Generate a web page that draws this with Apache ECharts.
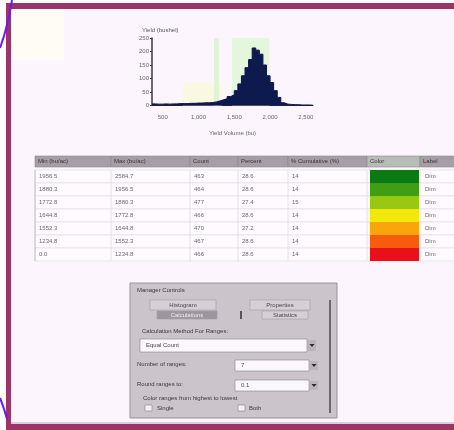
<!DOCTYPE html>
<html>
<head>
<meta charset="utf-8">
<script src="https://cdn.jsdelivr.net/npm/echarts@6/dist/echarts.min.js"></script>
<style>
  html, body { margin: 0; padding: 0; background: #fff; }
  #main { width: 454px; height: 430px; }
</style>
</head>
<body>
<div id="main"></div>
<script>
// histogram bins (left edge, bu) and counts
var binEdges = [350, 400, 450, 500, 550, 600, 650, 700, 750, 800, 850, 900, 950, 1000, 1050,
  1100, 1150, 1200, 1250, 1300, 1350, 1400, 1450, 1500, 1550, 1600, 1650, 1700, 1750, 1800,
  1850, 1900, 1950, 2000, 2050, 2100, 2150, 2200, 2250, 2300, 2350, 2400, 2450, 2500, 2550, 2600];
var binCounts = [6, 5, 5, 6, 5, 6, 6, 7, 7, 7, 8, 8, 9, 9, 10,
  10, 11, 13, 17, 21, 25, 33, 40, 55, 80, 110, 140, 170, 213, 205,
  190, 150, 110, 85, 55, 30, 10, 5, 4, 3, 3, 2, 2, 2, 1, 1];
var xTicks = [500, 1000, 1500, 2000, 2500];
var yTicks = [0, 50, 100, 150, 200, 250];

// range table
var tableHeaders = ['Min (bu/ac)', 'Max (bu/ac)', 'Count', 'Percent', '% Cumulative (%)', 'Color', 'Label'];
var rangeMin = ['1956.5', '1880.3', '1772.8', '1644.8', '1552.3', '1234.8', '0.0'];
var rangeMax = ['2584.7', '1956.5', '1880.3', '1772.8', '1644.8', '1552.3', '1234.8'];
var rangeCount = ['463', '464', '477', '466', '470', '467', '466'];
var rangePercent = ['28.6', '28.6', '27.4', '28.6', '27.2', '28.6', '28.6'];
var rangeCum = ['14', '14', '15', '14', '14', '14', '14'];
var rangeColors = ['#0b7a12', '#3f9e14', '#98c812', '#f2e80c', '#f8a60c', '#f85a0e', '#e8101a'];
var rangeLabel = ['Dim', 'Dim', 'Dim', 'Dim', 'Dim', 'Dim', 'Dim'];

var chart = echarts.init(document.getElementById('main'));
var font = 'Liberation Sans';

// column edges of the table
var colX = [35, 111, 190, 238, 288, 367, 420, 456];
var headTop = 156, headH = 11, rowTop = 170, rowH = 13;

var g = [];
// page background inside the frame
g.push({ type: 'rect', z: -10, shape: { x: 6, y: 3, width: 448, height: 427 }, style: { fill: '#fdf5fd' } });
g.push({ type: 'rect', z: -9, shape: { x: 12, y: 10, width: 52, height: 50 }, style: { fill: '#fffcf4' } });

// table header
for (var c = 0; c < tableHeaders.length; c++) {
  g.push({ type: 'rect', shape: { x: colX[c], y: headTop, width: colX[c + 1] - colX[c], height: headH },
    style: { fill: c === 5 ? '#b8bcb6' : '#a69ea6', stroke: '#8e868e', lineWidth: 0.6 } });
  g.push({ type: 'text', x: colX[c] + 3, y: headTop + headH / 2,
    style: { text: tableHeaders[c], fill: '#3a343a', fontSize: 6, fontFamily: font, verticalAlign: 'middle' } });
}
// table rows
var cols = [rangeMin, rangeMax, rangeCount, rangePercent, rangeCum];
for (var r = 0; r < rangeMin.length; r++) {
  var y = rowTop + r * rowH;
  g.push({ type: 'rect', z: -5, shape: { x: colX[0], y: y, width: colX[7] - colX[0], height: rowH },
    style: { fill: '#fefafe', stroke: '#e2dae2', lineWidth: 0.6 } });
  for (var k = 0; k < cols.length; k++) {
    g.push({ type: 'text', x: colX[k] + 4, y: y + rowH / 2,
      style: { text: cols[k][r], fill: '#6e666e', fontSize: 6, fontFamily: font, verticalAlign: 'middle' } });
  }
  g.push({ type: 'rect', shape: { x: colX[5] + 3, y: y, width: colX[6] - colX[5] - 4, height: rowH },
    style: { fill: rangeColors[r] } });
  g.push({ type: 'text', x: colX[6] + 5, y: y + rowH / 2,
    style: { text: rangeLabel[r], fill: '#6e666e', fontSize: 6, fontFamily: font, verticalAlign: 'middle' } });
}
// vertical grid lines of the table
for (var c2 = 0; c2 < colX.length - 1; c2++) {
  g.push({ type: 'line', z: -4, shape: { x1: colX[c2], y1: rowTop, x2: colX[c2], y2: rowTop + 7 * rowH },
    style: { stroke: c2 === 0 ? '#b8b0b8' : '#e2dae2', lineWidth: 0.8 } });
}

// dialog panel
var px = 130, py = 283, pw = 207, ph = 135;
g.push({ type: 'rect', shape: { x: px, y: py, width: pw, height: ph }, style: { fill: '#cbc4cb', stroke: '#9a929a', lineWidth: 1 } });
g.push({ type: 'text', x: 137, y: 290, style: { text: 'Manager Controls', fill: '#3c363c', fontSize: 6, fontFamily: font, verticalAlign: 'middle' } });
function button(x, y, w, h, label, dark) {
  g.push({ type: 'rect', shape: { x: x, y: y, width: w, height: h },
    style: { fill: dark ? '#9e969e' : '#d6d0d6', stroke: '#a49ca4', lineWidth: 0.6 } });
  g.push({ type: 'text', x: x + w / 2, y: y + h / 2,
    style: { text: label, fill: dark ? '#eee8ee' : '#4a444a', fontSize: 6, fontFamily: font, align: 'center', verticalAlign: 'middle' } });
}
button(150, 300, 66, 10, 'Histogram', false);
button(157, 311, 60, 8, 'Calculations', true);
button(250, 300, 60, 10, 'Properties', false);
button(262, 311, 46, 8, 'Statistics', false);
g.push({ type: 'rect', shape: { x: 240, y: 311, width: 2, height: 8 }, style: { fill: '#5a545a' } });
g.push({ type: 'text', x: 142, y: 331, style: { text: 'Calculation Method For Ranges:', fill: '#3c363c', fontSize: 6, fontFamily: font, verticalAlign: 'middle' } });

function dropdown(x, y, w, h, label) {
  g.push({ type: 'rect', shape: { x: x, y: y, width: w, height: h }, style: { fill: '#fbf8fb', stroke: '#8a828a', lineWidth: 0.6 } });
  g.push({ type: 'text', x: x + 6, y: y + h / 2, style: { text: label, fill: '#4a444a', fontSize: 6, fontFamily: font, verticalAlign: 'middle' } });
  g.push({ type: 'rect', shape: { x: x + w + 1, y: y + 1, width: 8, height: h - 2 }, style: { fill: '#bcb4bc' } });
  g.push({ type: 'polygon', shape: { points: [[x + w + 2.5, y + h / 2 - 1.5], [x + w + 7.5, y + h / 2 - 1.5], [x + w + 5, y + h / 2 + 1.5]] }, style: { fill: '#2c262c' } });
}
dropdown(140, 339, 167, 13, 'Equal Count');
g.push({ type: 'text', x: 137, y: 364, style: { text: 'Number of ranges:', fill: '#3c363c', fontSize: 6, fontFamily: font, verticalAlign: 'middle' } });
dropdown(235, 360, 74, 11, '7');
g.push({ type: 'text', x: 137, y: 384, style: { text: 'Round ranges to:', fill: '#3c363c', fontSize: 6, fontFamily: font, verticalAlign: 'middle' } });
dropdown(235, 380, 74, 11, '0.1');
g.push({ type: 'text', x: 143, y: 398, style: { text: 'Color ranges from highest to lowest', fill: '#3c363c', fontSize: 6, fontFamily: font, verticalAlign: 'middle' } });
g.push({ type: 'rect', shape: { x: 145, y: 405, width: 7, height: 6 }, style: { fill: '#f4f0f4', stroke: '#8a828a', lineWidth: 0.6 } });
g.push({ type: 'text', x: 157, y: 408, style: { text: 'Single', fill: '#3c363c', fontSize: 6, fontFamily: font, verticalAlign: 'middle' } });
g.push({ type: 'rect', shape: { x: 238, y: 405, width: 7, height: 6 }, style: { fill: '#f4f0f4', stroke: '#8a828a', lineWidth: 0.6 } });
g.push({ type: 'text', x: 249, y: 408, style: { text: 'Both', fill: '#3c363c', fontSize: 6, fontFamily: font, verticalAlign: 'middle' } });
g.push({ type: 'rect', shape: { x: 329, y: 300, width: 2, height: 113 }, style: { fill: '#6e686e' } });

// frame
g.push({ type: 'rect', z: 20, shape: { x: 6, y: 3, width: 448, height: 6 }, style: { fill: '#9b3467' } });
g.push({ type: 'rect', z: 20, shape: { x: 6, y: 3, width: 5, height: 427 }, style: { fill: '#9b3467' } });
g.push({ type: 'rect', z: 20, shape: { x: 6, y: 424, width: 448, height: 6 }, style: { fill: '#9b3467' } });
g.push({ type: 'line', z: 20, shape: { x1: 11, y1: 423, x2: 454, y2: 423 }, style: { stroke: '#b4a8b4', lineWidth: 1 } });
// purple arcs at the left edge
g.push({ type: 'bezierCurve', z: 21, shape: { x1: 12, y1: 0, cpx1: 9, cpy1: 18, cpx2: 6, cpy2: 32, x2: 0, y2: 48 },
  style: { stroke: '#6a1cf0', lineWidth: 2, fill: null } });
g.push({ type: 'bezierCurve', z: 21, shape: { x1: 0, y1: 398, cpx1: 3, cpy1: 405, cpx2: 5, cpy2: 412, x2: 7, y2: 419 },
  style: { stroke: '#6a1cf0', lineWidth: 2, fill: null } });

var histData = binEdges.map(function (b, i) { return [b, binCounts[i]]; });

chart.setOption({
  backgroundColor: '#ffffff',
  animation: false,
  title: {
    text: 'Yield (bushel)', left: 137, top: 22,
    textStyle: { fontSize: 6, fontWeight: 'normal', color: '#5a545a', fontFamily: font }
  },
  grid: { left: 152, top: 38, width: 161, height: 67.5 },
  xAxis: {
    type: 'value', min: 350, max: 2600, interval: 50,
    name: 'Yield Volume (bu)', nameLocation: 'middle', nameGap: 25,
    nameTextStyle: { fontSize: 6, color: '#6a646a', fontFamily: font },
    axisLine: { lineStyle: { color: '#2a2a3a', width: 1 } },
    axisTick: { show: false },
    splitLine: { show: false },
    axisLabel: {
      fontSize: 6, color: '#6a646a', fontFamily: font, margin: 9,
      formatter: function (v) { return xTicks.indexOf(v) >= 0 ? (v >= 1000 ? String(v).slice(0, 1) + ',' + String(v).slice(1) : String(v)) : ''; }
    }
  },
  yAxis: {
    type: 'value', min: 0, max: 250, interval: 50,
    axisLine: { show: true, lineStyle: { color: '#3a3440', width: 1.5 } },
    axisTick: { show: true, length: 2, lineStyle: { color: '#3a3440' } },
    splitLine: { show: false },
    axisLabel: { fontSize: 6, color: '#6a646a', fontFamily: font, margin: 3,
      formatter: function (v) { return yTicks.indexOf(v) >= 0 ? String(v) : ''; } }
  },
  series: [{
    type: 'line', step: 'end', symbol: 'none', data: histData,
    lineStyle: { color: '#0b1446', width: 1 },
    areaStyle: { color: '#0d1a4e', opacity: 1 },
    markArea: {
      silent: true,
      data: [
        [{ xAxis: 780, yAxis: 0, itemStyle: { color: '#fbf8e2' } }, { xAxis: 1330, yAxis: 85 }],
        [{ xAxis: 1215, itemStyle: { color: '#dff3d6' } }, { xAxis: 1285 }],
        [{ xAxis: 1470, itemStyle: { color: '#e4f6dc' } }, { xAxis: 1990 }]
      ]
    }
  }],
  graphic: g
});
</script>
</body>
</html>
